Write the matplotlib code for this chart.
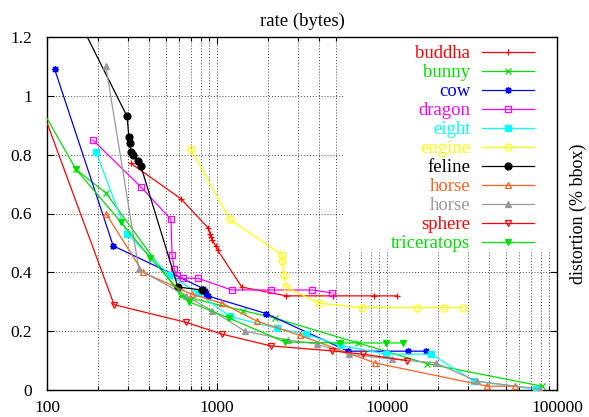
import numpy as np
import matplotlib
matplotlib.use("Agg")
import matplotlib.pyplot as plt
from matplotlib.patches import Rectangle
from matplotlib.ticker import LogLocator, NullFormatter, FixedLocator

plt.rcParams['font.family'] = ['Liberation Serif', 'DejaVu Serif']

# rate (bytes), distortion (% bbox)
buddha_x = [312, 614, 890, 910, 925, 940, 980, 1010, 1400, 2550, 4800, 8400, 11400]
buddha_y = [0.77, 0.65, 0.55, 0.53, 0.52, 0.51, 0.49, 0.475, 0.35, 0.32, 0.32, 0.32, 0.32]

bunny_x = [148, 222, 614, 1420, 2200, 6740, 17100, 81600]
bunny_y = [0.75, 0.67, 0.32, 0.27, 0.244, 0.16, 0.09, 0.013]

cow_x = [111, 245, 830, 850, 865, 880, 1940, 5900, 13300, 16900]
cow_y = [1.09, 0.49, 0.345, 0.335, 0.328, 0.32, 0.26, 0.132, 0.132, 0.132]

dragon_x = [186, 357, 536, 544, 560, 580, 630, 770, 1220, 2070, 3630, 4740]
dragon_y = [0.85, 0.69, 0.58, 0.46, 0.41, 0.39, 0.38, 0.38, 0.34, 0.34, 0.34, 0.33]

eight_x = [194, 296, 530, 770, 1190, 2240, 3330, 5280, 9850, 18200, 32500, 75500]
eight_y = [0.81, 0.53, 0.39, 0.33, 0.25, 0.21, 0.19, 0.152, 0.122, 0.122, 0.03, 0.003]

engine_x = [700, 1190, 2410, 2420, 2480, 2550, 3980, 7140, 15000, 21600, 28000]
engine_y = [0.82, 0.58, 0.46, 0.44, 0.39, 0.35, 0.295, 0.28, 0.28, 0.28, 0.28]

feline_x = [150, 296, 303, 307, 311, 320, 343, 357, 589, 817]
feline_y = [1.27, 0.93, 0.86, 0.84, 0.81, 0.80, 0.78, 0.76, 0.35, 0.34]

horse1_x = [222, 367, 714, 1070, 1720, 3070, 8500, 38800, 57000]
horse1_y = [0.60, 0.40, 0.325, 0.295, 0.234, 0.186, 0.092, 0.013, 0.013]

horse2_x = [222, 347, 657, 935, 1460, 2620, 3870, 5960, 10700, 19300, 33800, 79000]
horse2_y = [1.10, 0.41, 0.32, 0.27, 0.20, 0.17, 0.156, 0.122, 0.105, 0.092, 0.03, 0.003]

sphere_x = [90, 248, 657, 1070, 2070, 4740, 7200, 13100]
sphere_y = [0.98, 0.29, 0.23, 0.19, 0.15, 0.133, 0.122, 0.10]

tri_x = [90, 148, 273, 404, 685, 1180, 2510, 5300, 9800, 12400]
tri_y = [0.97, 0.75, 0.57, 0.45, 0.30, 0.244, 0.163, 0.16, 0.16, 0.16]

series = [
    ("buddha", buddha_x, buddha_y, "#ff0000", "+", True),
    ("bunny", bunny_x, bunny_y, "#00e000", "x", True),
    ("cow", cow_x, cow_y, "#0000ff", (8, 2, 0), True),
    ("dragon", dragon_x, dragon_y, "#ff00ff", "s", False),
    ("eight", eight_x, eight_y, "#00ffff", "s", True),
    ("engine", engine_x, engine_y, "#ffff00", "o", False),
    ("feline", feline_x, feline_y, "#000000", "o", True),
    ("horse", horse1_x, horse1_y, "#ff6020", "^", False),
    ("horse", horse2_x, horse2_y, "#999999", "^", True),
    ("sphere", sphere_x, sphere_y, "#ff0000", "v", False),
    ("triceratops", tri_x, tri_y, "#00e000", "v", True),
]

fig = plt.figure(figsize=(5.89, 4.17), dpi=100)
ax = fig.add_axes([47 / 589, 1 - 390 / 417, 510 / 589, 353 / 417])

for name, xs, ys, col, mk, filled in series:
    ax.plot(xs, ys, color=col, lw=0.9, marker=mk, ms=5, mew=0.9,
            mfc=col if filled else "none", mec=col, label=name,
            clip_on=True, zorder=3)

ax.set_xscale("log")
ax.set_xlim(100, 100000)
ax.set_ylim(0, 1.2)
ax.set_yticks([0, 0.2, 0.4, 0.6, 0.8, 1.0, 1.2])
ax.set_yticklabels(["0", "0.2", "0.4", "0.6", "0.8", "1", "1.2"])
ax.xaxis.set_major_locator(FixedLocator([100, 1000, 10000, 100000]))
ax.set_xticklabels(["100", "1000", "10000", "100000"])
ax.xaxis.set_minor_locator(LogLocator(base=10, subs=np.arange(2, 10)))
ax.xaxis.set_minor_formatter(NullFormatter())

ax.tick_params(which="both", direction="in", top=True, right=True, labelsize=12.5)
ax.tick_params(which="major", length=5, width=0.8)
ax.tick_params(which="minor", length=3, width=0.8)
ax.tick_params(axis="y", pad=11)
ax.tick_params(axis="x", pad=7.5)
ax.grid(True, which="both", axis="x", color="#444444", ls=(0, (1, 2)), lw=0.7)
ax.grid(True, which="major", axis="y", color="#444444", ls=(0, (1, 2)), lw=0.7)
ax.set_axisbelow(True)
for s in ax.spines.values():
    s.set_linewidth(1.0)

# key area hides the grid, like in gnuplot
ax.add_patch(Rectangle(((343 - 47) / 510, (390 - 252) / 353), 1, 1,
                       transform=ax.transAxes, facecolor="white",
                       edgecolor="none", zorder=2))

ax.set_title("rate (bytes)", fontsize=13.5, pad=8)
ax.yaxis.set_label_position("right")
ax.set_ylabel("distortion (% bbox)", fontsize=13, labelpad=9)

leg = ax.legend(loc="upper right", bbox_to_anchor=((534 - 47) / 510, (390 - 45) / 353),
                markerfirst=False, labelcolor="linecolor",
                fontsize=13.5, frameon=False, borderaxespad=0, borderpad=0,
                handlelength=2.75, handletextpad=0.65, labelspacing=0.1)
leg.set_zorder(5)

fig.savefig("out.png", dpi=100)
